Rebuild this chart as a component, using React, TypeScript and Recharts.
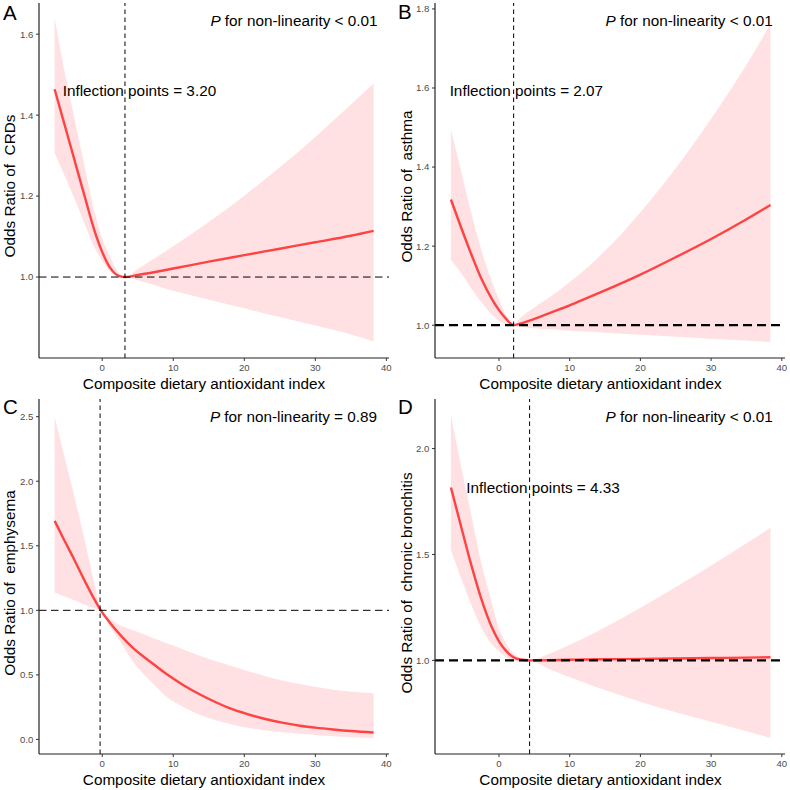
import React from 'react';
import { ComposedChart, Area, Line, XAxis, YAxis, ReferenceLine, ReferenceDot } from 'recharts';

// ---------- Data ----------
// Panel A: CRDs
const xA = [-6.7, -5.5, -4, -2.5, -1, 0, 1, 2, 2.7, 3.2, 5, 10, 15, 20, 25, 30, 35, 38.2];
const orA = [1.464, 1.389, 1.295, 1.201, 1.110, 1.062, 1.026, 1.006, 1.001, 1.000, 1.005, 1.021, 1.038, 1.054, 1.070, 1.086, 1.102, 1.114];
const hiA = [1.640, 1.525, 1.400, 1.275, 1.155, 1.095, 1.055, 1.018, 1.004, 1.000, 1.020, 1.076, 1.136, 1.201, 1.271, 1.346, 1.426, 1.478];
const loA = [1.306, 1.259, 1.198, 1.133, 1.070, 1.040, 1.017, 1.002, 0.998, 1.000, 0.992, 0.966, 0.944, 0.923, 0.901, 0.880, 0.858, 0.841];

// Panel B: asthma
const xB = [-6.8, -5.5, -4, -2.5, -1, 0, 1, 1.6, 2.07, 3, 5, 7.5, 10, 12.5, 15, 20, 25, 30, 35, 38.4];
const orB = [1.318, 1.254, 1.183, 1.118, 1.066, 1.038, 1.016, 1.005, 1.000, 1.004, 1.016, 1.033, 1.050, 1.069, 1.088, 1.128, 1.172, 1.218, 1.268, 1.304];
const hiB = [1.495, 1.400, 1.290, 1.190, 1.110, 1.065, 1.025, 1.008, 1.000, 1.018, 1.045, 1.075, 1.109, 1.146, 1.188, 1.286, 1.397, 1.522, 1.659, 1.761];
const loB = [1.165, 1.135, 1.095, 1.058, 1.027, 1.011, 1.002, 0.999, 1.000, 0.996, 0.992, 0.989, 0.986, 0.984, 0.981, 0.976, 0.971, 0.966, 0.961, 0.958];

// Panel C: emphysema
const xC = [-6.7, -5.5, -4, -2.5, -1, -0.2, 1, 2.5, 4.4, 7, 9, 11.5, 13.7, 16, 18.4, 20.5, 23.1, 25.5, 27.8, 30, 32.5, 35, 38.2];
const orC = [1.693, 1.560, 1.400, 1.232, 1.075, 1.000, 0.910, 0.812, 0.705, 0.592, 0.508, 0.418, 0.350, 0.288, 0.232, 0.195, 0.156, 0.128, 0.106, 0.091, 0.077, 0.065, 0.054];
const hiC = [2.500, 2.230, 1.900, 1.550, 1.180, 1.000, 0.940, 0.885, 0.845, 0.790, 0.746, 0.695, 0.648, 0.605, 0.565, 0.530, 0.488, 0.455, 0.429, 0.408, 0.385, 0.370, 0.359];
const loC = [1.138, 1.110, 1.080, 1.045, 1.012, 1.000, 0.880, 0.760, 0.595, 0.440, 0.333, 0.250, 0.191, 0.148, 0.114, 0.090, 0.070, 0.055, 0.044, 0.035, 0.024, 0.017, 0.011];

// Panel D: chronic bronchitis
const xD = [-6.8, -5.5, -4, -2.5, -1, 0, 1, 2, 3, 4.33, 7, 10, 12.5, 15, 20, 25, 30, 35, 38.4];
const orD = [1.816, 1.650, 1.460, 1.290, 1.155, 1.090, 1.045, 1.016, 1.004, 1.000, 1.001, 1.003, 1.004, 1.005, 1.007, 1.009, 1.011, 1.013, 1.015];
const hiD = [2.159, 1.940, 1.700, 1.460, 1.270, 1.150, 1.080, 1.035, 1.012, 1.000, 1.030, 1.074, 1.113, 1.156, 1.248, 1.346, 1.448, 1.553, 1.626];
const loD = [1.522, 1.400, 1.270, 1.155, 1.075, 1.042, 1.017, 1.000, 0.995, 1.000, 0.960, 0.920, 0.890, 0.860, 0.805, 0.755, 0.710, 0.665, 0.634];

// Ticks
const xTicks = [0, 10, 20, 30, 40];
const yTicksA = [1.0, 1.2, 1.4, 1.6];
const yTicksB = [1.0, 1.2, 1.4, 1.6, 1.8];
const yTicksC = [0.0, 0.5, 1.0, 1.5, 2.0, 2.5];
const yTicksD = [1.0, 1.5, 2.0];

// Reference values
const cutA = 3.2, cutB = 2.07, cutC = -0.3, cutD = 4.33;
const inflA = 'Inflection points = 3.20';
const inflB = 'Inflection points = 2.07';
const inflD = 'Inflection points = 4.33';

const build = (xs: number[], or: number[], lo: number[], hi: number[]) =>
  xs.map((x, i) => ({ x, or: or[i], band: [lo[i], hi[i]] as [number, number] }));

const FONT = '"Liberation Sans", Arial, Helvetica, sans-serif';
const RED = '#FF4242';
const PINK = '#FFE1E3';

type PanelCfg = {
  left: number; top: number;
  data: any[];
  yWidth: number;
  margin: { top: number; right: number; bottom: number; left: number };
  xHeight: number;
  xDomain: [number, number];
  yDomain: [number, number];
  yTicks: number[];
  cut: number;
  thickH: boolean;
  infl: { x: number; y: number; text: string } | null;
};

const panels: PanelCfg[] = [
  {
    left: 0, top: 0, data: build(xA, orA, loA, hiA), yWidth: 39,
    margin: { top: 3, right: 6, bottom: 0, left: 0 }, xHeight: 37,
    xDomain: [-8.9, 40.37], yDomain: [0.80, 1.677], yTicks: yTicksA, cut: cutA, thickH: false,
    infl: { x: -5.57, y: 1.461, text: inflA },
  },
  {
    left: 395, top: 0, data: build(xB, orB, loB, hiB), yWidth: 40,
    margin: { top: 3, right: 5, bottom: 0, left: 0 }, xHeight: 37,
    xDomain: [-9.05, 40.45], yDomain: [0.917, 1.815], yTicks: yTicksB, cut: cutB, thickH: true,
    infl: { x: -6.98, y: 1.594, text: inflB },
  },
  {
    left: 0, top: 395, data: build(xC, orC, loC, hiC), yWidth: 39,
    margin: { top: 4, right: 6, bottom: 0, left: 0 }, xHeight: 36,
    xDomain: [-8.9, 40.37], yDomain: [-0.113, 2.637], yTicks: yTicksC, cut: cutC, thickH: false,
    infl: null,
  },
  {
    left: 395, top: 395, data: build(xD, orD, loD, hiD), yWidth: 40,
    margin: { top: 4, right: 5, bottom: 0, left: 0 }, xHeight: 36,
    xDomain: [-9.05, 40.45], yDomain: [0.558, 2.234], yTicks: yTicksD, cut: cutD, thickH: true,
    infl: { x: -4.62, y: 1.818, text: inflD },
  },
];

function Panel({ p }: { p: PanelCfg }) {
  return (
    <div style={{ position: 'absolute', left: p.left, top: p.top, width: 395, height: 395 }}>
      <ComposedChart width={395} height={395} data={p.data} margin={p.margin}>
        <XAxis
          type="number" dataKey="x" domain={p.xDomain} ticks={xTicks} allowDataOverflow interval={0}
          height={p.xHeight} tickSize={3} tickMargin={3.5}
          tick={{ fontSize: 9.6, fill: '#4D4D4D', fontFamily: FONT }}
          axisLine={{ stroke: '#222', strokeWidth: 1.2 }} tickLine={{ stroke: '#333' }}
        />
        <YAxis
          type="number" domain={p.yDomain} ticks={p.yTicks} allowDataOverflow interval={0}
          width={p.yWidth} tickSize={3} tickMargin={2.7}
          tickFormatter={(v: number) => v.toFixed(1)}
          tick={{ fontSize: 9.6, fill: '#4D4D4D', fontFamily: FONT }}
          axisLine={{ stroke: '#222', strokeWidth: 1.2 }} tickLine={{ stroke: '#333' }}
        />
        <Area dataKey="band" type="monotone" stroke="none" fill={PINK} fillOpacity={1} isAnimationActive={false} />
        <Line dataKey="or" type="monotone" stroke={RED} strokeWidth={2.4} dot={false} activeDot={false} isAnimationActive={false} />
        <ReferenceLine x={p.cut} stroke="#000" strokeWidth={1} strokeDasharray="4.5 3.5" />
        <ReferenceLine
          y={1}
          stroke="#000"
          strokeWidth={p.thickH ? 2.2 : 1}
          strokeDasharray={p.thickH ? '9 5' : '7.5 4.5'}
        />
        {p.infl && (
          <ReferenceDot
            x={p.infl.x} y={p.infl.y} r={0} fill="none" stroke="none"
            label={{ value: p.infl.text, position: 'right', offset: 0, fontSize: 15.3, fill: '#000', fontFamily: FONT }}
          />
        )}
      </ComposedChart>
    </div>
  );
}

const letters = [
  { t: 'A', x: 3, y: 19.5 },
  { t: 'B', x: 398, y: 18.5 },
  { t: 'C', x: 3, y: 414 },
  { t: 'D', x: 398, y: 414 },
];
const pTexts = [
  { v: ' for non-linearity < 0.01', x: 377.5, y: 25.5 },
  { v: ' for non-linearity < 0.01', x: 772.7, y: 25.5 },
  { v: ' for non-linearity = 0.89', x: 377, y: 422 },
  { v: ' for non-linearity < 0.01', x: 772.7, y: 422 },
];
const yTitles = [
  { v: 'Odds Ratio of  CRDs', x: 15, y: 186 },
  { v: 'Odds Ratio of  asthma', x: 411.5, y: 186.5 },
  { v: 'Odds Ratio of  emphysema', x: 15, y: 583 },
  { v: 'Odds Ratio of  chronic bronchitis', x: 411.5, y: 583 },
];
const xTitle = 'Composite dietary antioxidant index';
const xTitles = [
  { x: 204, y: 388.5 },
  { x: 600.5, y: 388.5 },
  { x: 204, y: 785 },
  { x: 600.5, y: 785 },
];

export default function App() {
  return (
    <div style={{ position: 'absolute', left: 0, top: 0, width: 790, height: 790, background: '#fff' }}>
      {panels.map((p, i) => <Panel key={i} p={p} />)}
      <svg width={790} height={790} style={{ position: 'absolute', left: 0, top: 0, pointerEvents: 'none' }}>
        <g fontFamily={FONT} fill="#000">
          {letters.map((l, i) => (
            <text key={'l' + i} x={l.x} y={l.y} fontSize={20.5}>{l.t}</text>
          ))}
          {pTexts.map((p, i) => (
            <text key={'p' + i} x={p.x} y={p.y} fontSize={15.3} textAnchor="end" style={{ whiteSpace: 'pre' }}>
              <tspan fontStyle="italic">P</tspan>{p.v}
            </text>
          ))}
          {yTitles.map((t, i) => (
            <text key={'y' + i} x={t.x} y={t.y} fontSize={15.3} textAnchor="middle" transform={`rotate(-90 ${t.x} ${t.y})`} style={{ whiteSpace: 'pre' }}>{t.v}</text>
          ))}
          {xTitles.map((t, i) => (
            <text key={'x' + i} x={t.x} y={t.y} fontSize={15.3} textAnchor="middle">{xTitle}</text>
          ))}
        </g>
      </svg>
    </div>
  );
}
